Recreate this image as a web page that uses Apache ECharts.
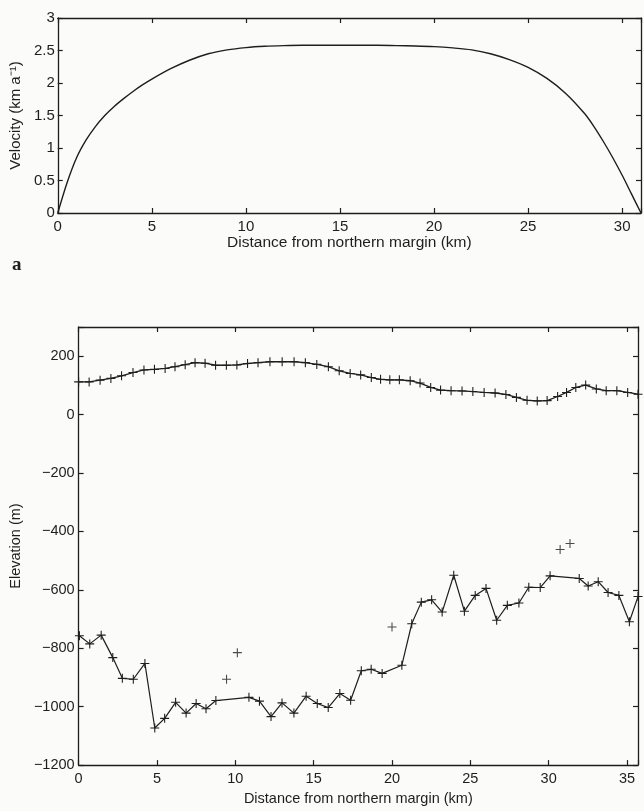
<!DOCTYPE html>
<html>
<head>
<meta charset="utf-8">
<script src="https://cdn.jsdelivr.net/npm/echarts@6/dist/echarts.min.js"></script>
<style>
html,body{margin:0;padding:0;background:#fbfbf9;}
#c{width:644px;height:811px;}
</style>
</head>
<body>
<div id="c"></div>
<script>
// ---- Panel a: velocity profile ----
const velocityX = [0, 0.5, 1, 1.5, 2, 2.5, 3, 3.5, 4, 4.5, 5, 6, 7, 8, 9, 10, 11, 12, 13, 14, 15, 16, 17, 18, 19, 20, 21, 22, 23, 24, 25, 26, 27, 28, 28.5, 29, 29.5, 30, 30.5, 31];
const velocity  = [0, 0.47, 0.85, 1.12, 1.33, 1.50, 1.64, 1.76, 1.87, 1.97, 2.06, 2.22, 2.35, 2.45, 2.51, 2.545, 2.565, 2.575, 2.58, 2.58, 2.58, 2.58, 2.58, 2.575, 2.57, 2.56, 2.54, 2.51, 2.45, 2.36, 2.24, 2.07, 1.84, 1.53, 1.33, 1.10, 0.85, 0.58, 0.29, 0];
const velXTicks = [0, 5, 10, 15, 20, 25, 30];
const velYTicks = [0, 0.5, 1, 1.5, 2, 2.5, 3];

// ---- Panel b: surface and bed elevation ----
const surfaceX = [0.0, 0.67, 1.37, 2.06, 2.74, 3.47, 4.17, 4.84, 5.52, 6.15, 6.80, 7.43, 8.07, 8.74, 9.43, 10.1, 10.78, 11.45, 12.21, 12.99, 13.75, 14.47, 15.2, 15.94, 16.63, 17.33, 18.0, 18.68, 19.27, 19.86, 20.47, 21.16, 21.79, 22.47, 23.1, 23.77, 24.47, 25.16, 25.88, 26.58, 27.27, 27.94, 28.62, 29.27, 29.9, 30.57, 31.14, 31.73, 32.36, 33.04, 33.67, 34.35, 35.04, 35.7];
const surfaceElev = [112, 112, 118, 124, 133, 144, 153, 155, 158, 164, 171, 178, 176, 169, 169, 170, 175, 178, 181, 181, 181, 178, 172, 164, 150, 141, 136, 127, 121, 119, 119, 116, 108, 93, 84, 82, 81, 79, 76, 74, 69, 59, 49, 47, 48, 62, 76, 93, 101, 88, 82, 82, 76, 70];
const bedX = [0.05, 0.71, 1.44, 2.18, 2.79, 3.49, 4.23, 4.86, 5.49, 6.19, 6.86, 7.50, 8.13, 8.76, 10.87, 11.54, 12.28, 12.98, 13.74, 14.52, 15.23, 15.93, 16.67, 17.36, 18.04, 18.67, 19.37, 20.63, 21.26, 21.87, 22.53, 23.2, 23.94, 24.62, 25.31, 26.0, 26.68, 27.36, 28.1, 28.73, 29.46, 30.09, 31.95, 32.52, 33.16, 33.79, 34.48, 35.15, 35.7];
const bedElev = [-757, -785, -755, -832, -903, -906, -852, -1073, -1040, -985, -1022, -989, -1007, -979, -968, -981, -1034, -987, -1022, -964, -989, -1003, -955, -978, -877, -872, -886, -858, -716, -642, -634, -676, -550, -673, -619, -595, -704, -653, -645, -591, -592, -552, -561, -587, -572, -609, -619, -709, -623];
const outlierX = [9.44, 10.13, 20.0, 30.73, 31.36];
const outlierElev = [-906, -815, -727, -462, -441];
const elevXTicks = [0, 5, 10, 15, 20, 25, 30, 35];
const elevYTicks = [-1200, -1000, -800, -600, -400, -200, 0, 200];

const INK = '#1e1e1e';
const FONT = 'Liberation Sans, Arial, Helvetica, sans-serif';
const PLUS = 'path://M4.4,0H5.6V4.4H10V5.6H5.6V10H4.4V5.6H0V4.4H4.4Z';

function pairs(xs, ys){ return xs.map((x,i)=>[x, ys[i]]); }

function boxAxis(pos, gridIndex, min, max, interval, ticks, showLabel, labelSize, margin, extra){
  const ax = {
    type: 'value', position: pos, gridIndex, min, max, interval,
    axisLine: {show: true, onZero: false, lineStyle: {color: INK, width: 1.3}},
    axisTick: {show: true, inside: true, length: 5, lineStyle: {color: INK, width: 1.2}},
    splitLine: {show: false},
    axisLabel: {
      show: showLabel, color: INK, fontFamily: FONT, fontSize: labelSize, margin,
      showMaxLabel: true, showMinLabel: true,
      formatter: v => ticks.some(t => Math.abs(t - v) < 1e-9) ? String(v).replace('-', '\u2212') : ''
    }
  };
  return Object.assign(ax, extra || {});
}

const chart = echarts.init(document.getElementById('c'), null, {renderer: 'canvas'});
chart.setOption({
  animation: false,
  backgroundColor: '#fbfbf9',
  grid: [
    {left: 56, top: 18, width: 587, height: 195, containLabel: false},
    {left: 73, top: 327, width: 565, height: 445, containLabel: false}
  ],
  xAxis: [
    boxAxis('bottom', 0, 0, 31, 5, velXTicks, true, 15, 6, {
      name: 'Distance from northern margin (km)', nameLocation: 'middle', nameGap: 22,
      nameTextStyle: {color: INK, fontFamily: FONT, fontSize: 15.5, verticalAlign: 'top'}
    }),
    boxAxis('top', 0, 0, 31, 5, velXTicks, false, 15, 6),
    boxAxis('bottom', 1, 0, 35.7, 5, elevXTicks, true, 14.5, 6, {
      name: 'Distance from northern margin (km)', nameLocation: 'middle', nameGap: 20,
      nameTextStyle: {color: INK, fontFamily: FONT, fontSize: 14.5, verticalAlign: 'top'}
    }),
    boxAxis('top', 1, 0, 35.7, 5, elevXTicks, false, 14.5, 6)
  ],
  yAxis: [
    boxAxis('left', 0, 0, 3, 0.5, velYTicks, true, 15, 3, {
      name: 'Velocity (km a\u207B\u00B9)', nameLocation: 'middle', nameGap: 28,
      nameTextStyle: {color: INK, fontFamily: FONT, fontSize: 15}
    }),
    boxAxis('right', 0, 0, 3, 0.5, velYTicks, false, 15, 3),
    boxAxis('left', 1, -1200, 300, 200, elevYTicks, true, 14.5, 4, {
      name: 'Elevation (m)', nameLocation: 'middle', nameGap: 49,
      nameTextStyle: {color: INK, fontFamily: FONT, fontSize: 14.5}
    }),
    boxAxis('right', 1, -1200, 300, 200, elevYTicks, false, 14.5, 4)
  ],
  series: [
    {
      type: 'line', xAxisIndex: 0, yAxisIndex: 0, data: pairs(velocityX, velocity),
      smooth: 0.3, showSymbol: false, lineStyle: {color: INK, width: 1.4}
    },
    {
      type: 'line', xAxisIndex: 2, yAxisIndex: 2, data: pairs(surfaceX, surfaceElev),
      symbol: PLUS, symbolSize: 9, showSymbol: true,
      itemStyle: {color: INK}, lineStyle: {color: INK, width: 1.3}
    },
    {
      type: 'line', xAxisIndex: 2, yAxisIndex: 2, data: pairs(bedX, bedElev),
      symbol: PLUS, symbolSize: 9, showSymbol: true,
      itemStyle: {color: INK}, lineStyle: {color: INK, width: 1.2}
    },
    {
      type: 'scatter', xAxisIndex: 2, yAxisIndex: 2, data: pairs(outlierX, outlierElev),
      symbol: PLUS, symbolSize: 9, itemStyle: {color: INK}
    }
  ],
  graphic: [
    {type: 'text', left: 12, top: 256, style: {text: 'a', fill: INK, font: 'bold 19px "Liberation Serif", "DejaVu Serif", serif'}}
  ]
});
</script>
</body>
</html>
